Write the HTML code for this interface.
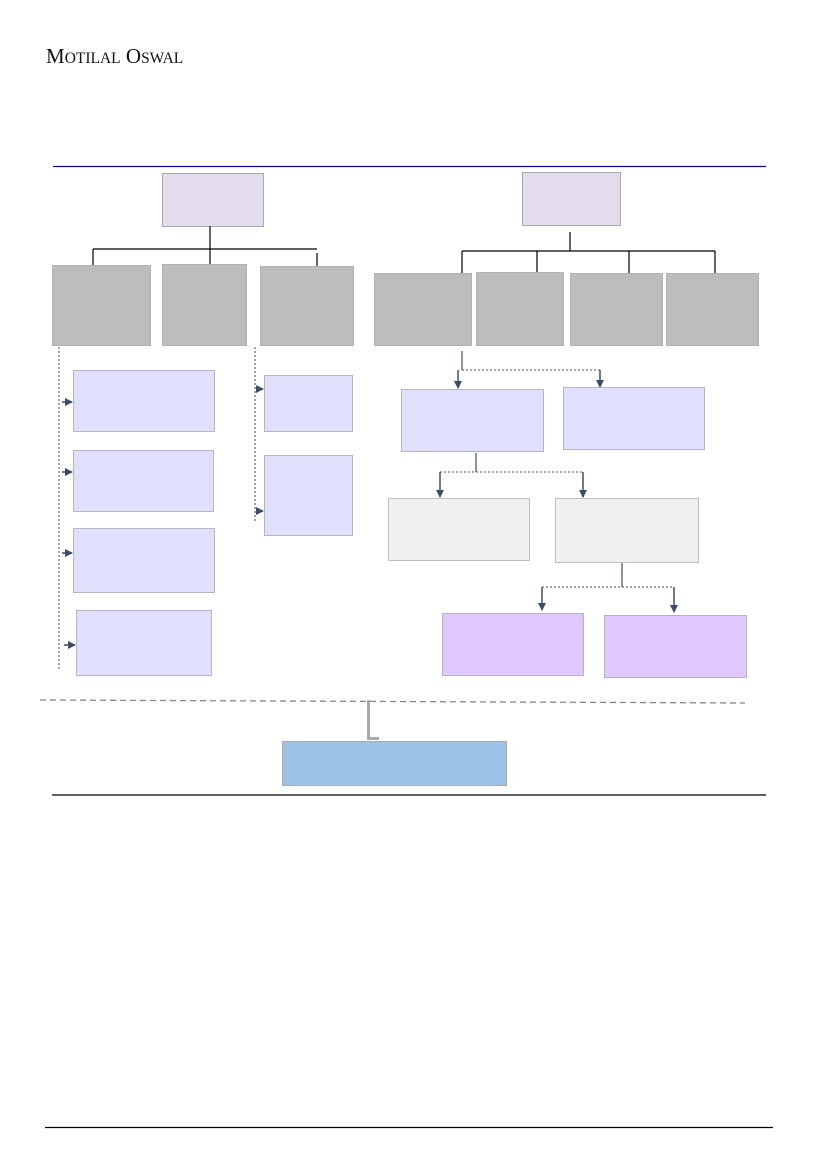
<!DOCTYPE html>
<html><head><meta charset="utf-8"><style>
body{margin:0;background:#fff;width:827px;height:1169px;overflow:hidden}
svg{display:block}
</style></head><body>
<svg width="827" height="1169" xmlns="http://www.w3.org/2000/svg">
<defs>
<marker id="a" markerWidth="8" markerHeight="8" refX="7" refY="4" orient="auto" markerUnits="userSpaceOnUse"><path d="M0,0 L8,4 L0,8 Z" fill="#3d4d66"/></marker>
</defs>
<text x="46" y="63" font-family="Liberation Serif, serif" font-size="21" fill="#111">M<tspan font-size="15.5">OTILAL</tspan> O<tspan font-size="15.5">SWAL</tspan></text>
<line x1="53" y1="166.5" x2="766" y2="166.5" stroke="#1a0099" stroke-width="1.2"/>
<g stroke="#aaa" stroke-width="1">
<rect x="162.5" y="173.5" width="101" height="53" fill="#e2dcec"/>
<rect x="522.5" y="172.5" width="98" height="53" fill="#e2dcec"/>
</g>
<g stroke="#000" stroke-width="1.2" fill="none">
<path d="M210,226 V240 M93,249 H317 M93,249 V265 M210,240 V264 M317,253 V266"/>
<path d="M570,232 V251 M462,251 H715 M462,251 V273 M537,251 V272 M629,251 V273 M715,251 V273"/>
</g>
<g fill="#bdbdbd" stroke="#b0b0b0">
<rect x="52.5" y="265.5" width="98" height="80"/>
<rect x="162.5" y="264.5" width="84" height="81"/>
<rect x="260.5" y="266.5" width="93" height="79"/>
<rect x="374.5" y="273.5" width="97" height="72"/>
<rect x="476.5" y="272.5" width="87" height="73"/>
<rect x="570.5" y="273.5" width="92" height="72"/>
<rect x="666.5" y="273.5" width="92" height="72"/>
</g>
<g stroke="#3d4d66" stroke-width="1" fill="none" stroke-dasharray="2,2">
<line x1="59" y1="347" x2="59" y2="671"/>
<line x1="255" y1="347" x2="255" y2="523"/>
<path d="M462,370 H600 M440,472 H583 M542,587 H674"/>
</g>
<g stroke="#3d4d66" stroke-width="1.5" fill="none" marker-end="url(#a)">
<path d="M62,402 H72"/><path d="M62,472 H72"/><path d="M62,553 H72"/><path d="M64,645 H75"/>
<path d="M257,389 H263"/><path d="M257,511 H263"/>
<path d="M458,370 V388"/><path d="M600,370 V387"/>
<path d="M440,472 V497"/><path d="M583,472 V497"/>
<path d="M542,587 V610"/><path d="M674,587 V612"/>
</g>
<g stroke="#3d4d66" stroke-width="1.2">
<line x1="462" y1="351" x2="462" y2="370"/>
<line x1="476" y1="453" x2="476" y2="472"/>
<line x1="622" y1="561" x2="622" y2="587"/>
</g>
<g fill="#e0e0fc" stroke="#b5b5c5">
<rect x="73.5" y="370.5" width="141" height="61"/>
<rect x="73.5" y="450.5" width="140" height="61"/>
<rect x="73.5" y="528.5" width="141" height="64"/>
<rect x="76.5" y="610.5" width="135" height="65"/>
<rect x="264.5" y="375.5" width="88" height="56"/>
<rect x="264.5" y="455.5" width="88" height="80"/>
<rect x="401.5" y="389.5" width="142" height="62"/>
<rect x="563.5" y="387.5" width="141" height="62"/>
</g>
<g fill="#f0f0f0" stroke="#c0c0c0">
<rect x="388.5" y="498.5" width="141" height="62"/>
<rect x="555.5" y="498.5" width="143" height="64"/>
</g>
<g fill="#dfc8fc" stroke="#b8b0c8">
<rect x="442.5" y="613.5" width="141" height="62"/>
<rect x="604.5" y="615.5" width="142" height="62"/>
</g>
<line x1="40" y1="700" x2="745" y2="703" stroke="#888" stroke-width="1.3" stroke-dasharray="6,4"/>
<path d="M368.5,700 V738.5 H379" stroke="#aaa" stroke-width="3" fill="none"/>
<rect x="282.5" y="741.5" width="224" height="44" fill="#9dc3e6" stroke="#aaa"/>
<line x1="52" y1="795" x2="766" y2="795" stroke="#000" stroke-width="1.2"/>
<line x1="45" y1="1127.5" x2="773" y2="1127.5" stroke="#000" stroke-width="1.2"/>
</svg>
</body></html>
